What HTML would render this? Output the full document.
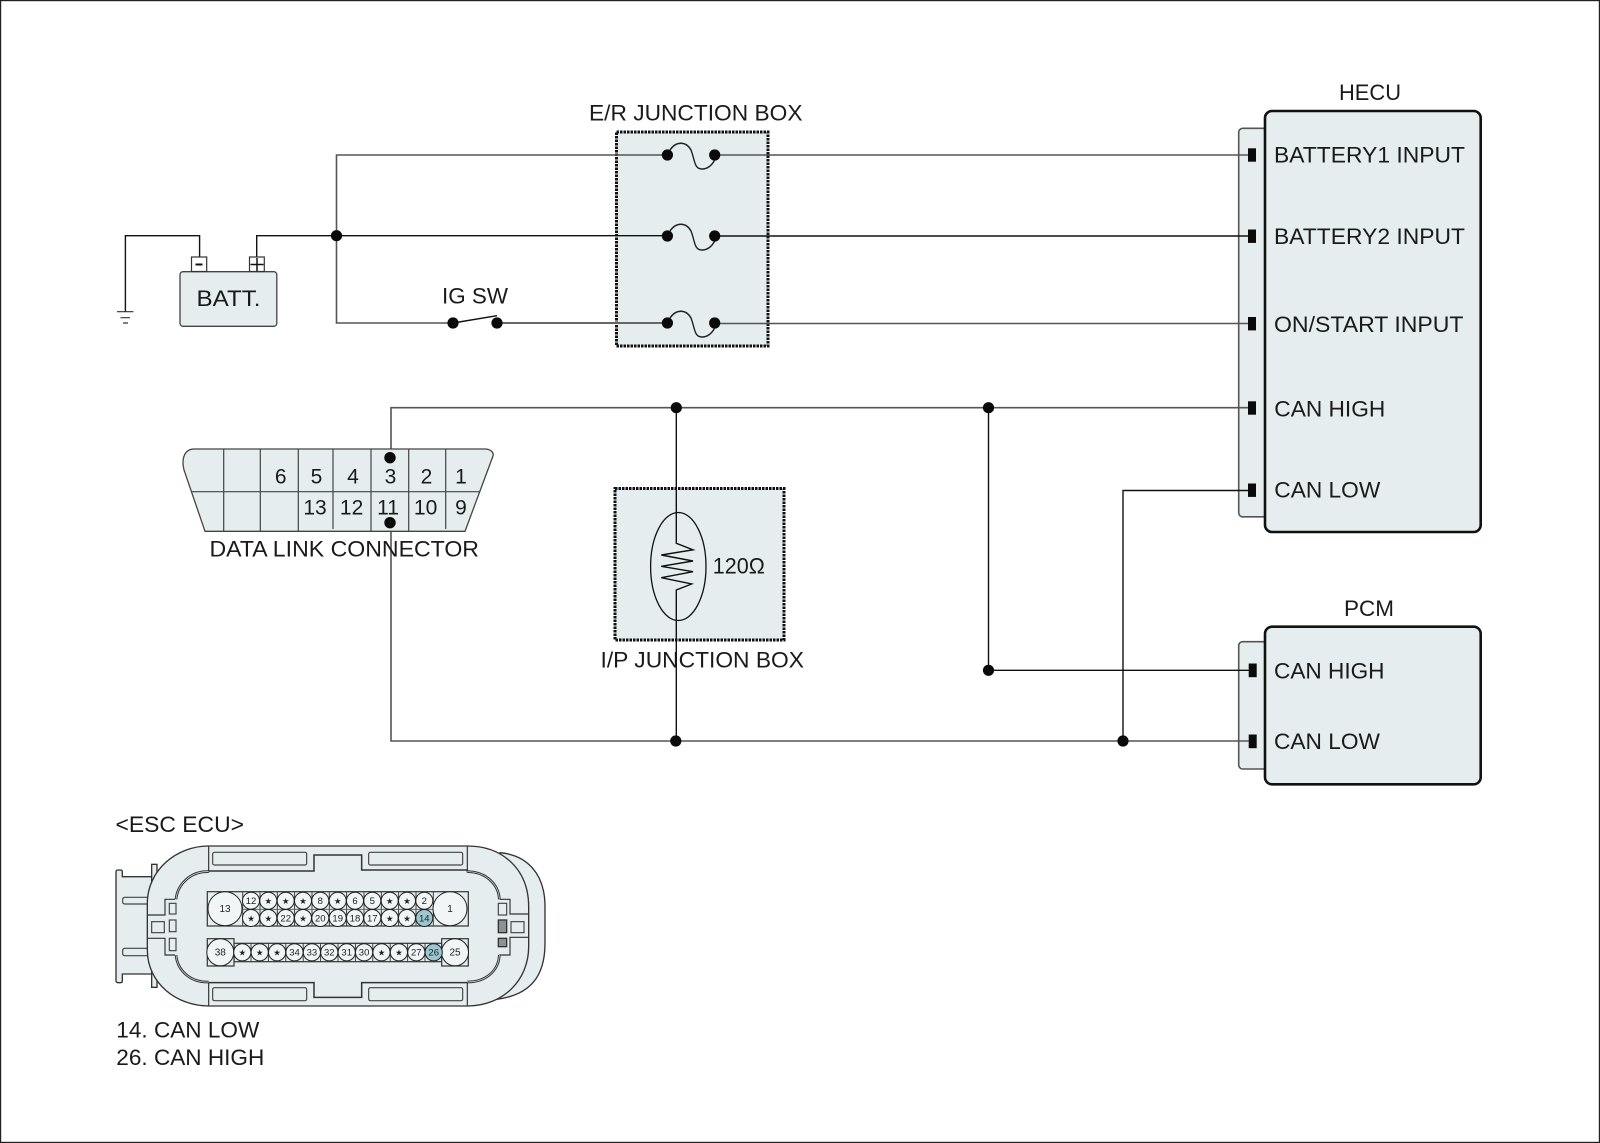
<!DOCTYPE html>
<html>
<head>
<meta charset="utf-8">
<style>
html,body{margin:0;padding:0;background:#fff}
svg{display:block}
text{font-family:"Liberation Sans",sans-serif;fill:#1a1a1a}
.t{font-size:22px}
.n{font-size:21px;text-anchor:middle}
.p{font-size:9.5px;text-anchor:middle;fill:#222}
.s{font-size:8.5px;text-anchor:middle;font-family:"DejaVu Sans",sans-serif;fill:#222}
.w{fill:none;stroke:#111;stroke-width:1.4}
.w2{fill:none;stroke:#555;stroke-width:1.6}
.b{fill:#e5edee;stroke:#111;stroke-width:2.6}
.d{fill:#e5edee;stroke:#111;stroke-width:3;stroke-dasharray:2.5 1}
.c{fill:#f1f5f5;stroke:#222;stroke-width:1}
.h{fill:#9cc6d0;stroke:#222;stroke-width:1}
.e{fill:#e5edee;stroke:#333;stroke-width:4}
.l{fill:#e5edee;stroke:#444;stroke-width:3.5}
.o{fill:none;stroke:#333;stroke-width:3.5}
</style>
</head>
<body>
<svg width="1600" height="1143" viewBox="0 0 1600 1143" xmlns="http://www.w3.org/2000/svg">
<rect x="0.5" y="0.5" width="1599" height="1142" fill="#fff" stroke="#222" stroke-width="1.4"/>

<!-- junction boxes -->
<rect class="d" x="616.5" y="132" width="151.5" height="214"/>
<rect class="d" x="615" y="488.5" width="169" height="151.5"/>

<!-- tabs + modules -->
<rect x="1238.7" y="128.3" width="40" height="388.5" rx="4" fill="#e5edee" stroke="#555" stroke-width="1.6"/>
<rect class="b" x="1265" y="111" width="215.7" height="421" rx="7"/>
<rect x="1238.7" y="641.7" width="40" height="127.3" rx="4" fill="#e5edee" stroke="#555" stroke-width="1.6"/>
<rect class="b" x="1265" y="626.7" width="215.7" height="157.6" rx="7"/>

<!-- wires -->
<path class="w2" d="M667 155H336.5V323H453"/>
<path class="w" d="M125.4 311.7V235.7H199.6V257M256.7 257V235.7H667"/>
<path class="w" d="M453 323L497 315.7"/>
<path d="M497 323H667" fill="none" stroke="#666" stroke-width="2"/>
<path class="w2" d="M714.7 155H1248"/>
<path class="w" d="M714.7 236H1248"/>
<path class="w2" d="M714.7 323.5H1248"/>
<path class="w2" d="M391 457V407.7H1248"/>
<path class="w" d="M676.3 407.7V543.3L693 549.8L661.3 555L693 561L661.3 566.3L693 571.7L661.3 577.7L691.7 584L676.3 590V741"/>
<path class="w" d="M988.5 407.7V670.3H1248.7"/>
<path class="w" d="M1248 490.5H1123V741"/>
<path class="w2" d="M391 522.7V741H1248.7"/>
<ellipse cx="678.3" cy="566.5" rx="27.7" ry="54" fill="none" stroke="#111" stroke-width="1.3"/>

<!-- ground -->
<path d="M117 311.7H133.5M120.5 317.7H130M123 323H128" stroke="#333" stroke-width="1.2" fill="none"/>

<!-- fuses -->
<g fill="none" stroke="#222" stroke-width="1.4">
<path d="M670 150C676 141 686 141 691 150C695 160 694 169 702 169C708 169 712 165 714.7 160"/>
<path d="M670 231C676 222 686 222 691 231C695 241 694 250 702 250C708 250 712 246 714.7 241"/>
<path d="M670 318C676 309 686 309 691 318C695 328 694 337 702 337C708 337 712 333 714.7 328"/>
</g>

<!-- nodes -->
<g fill="#0a0a0a">
<circle cx="336.5" cy="235.7" r="5.6"/>
<circle cx="667.4" cy="155" r="5.6"/><circle cx="714.7" cy="155" r="5.6"/>
<circle cx="667.4" cy="236" r="5.6"/><circle cx="714.7" cy="236" r="5.6"/>
<circle cx="667.4" cy="323" r="5.6"/><circle cx="714.7" cy="323" r="5.6"/>
<circle cx="453" cy="323" r="5.6"/><circle cx="497" cy="323" r="5.6"/>
<circle cx="676.3" cy="407.7" r="5.6"/><circle cx="988.5" cy="407.7" r="5.6"/>
<circle cx="988.5" cy="670.3" r="5.6"/>
<circle cx="675.8" cy="741" r="5.6"/><circle cx="1123" cy="741" r="5.6"/>
<rect x="1248" y="148.3" width="8" height="13.4"/>
<rect x="1248" y="229.5" width="8" height="13.4"/>
<rect x="1248" y="317" width="8" height="13.4"/>
<rect x="1248" y="401.3" width="8" height="13.4"/>
<rect x="1248" y="483.5" width="8" height="13.4"/>
<rect x="1248.7" y="663.5" width="8" height="13.7"/>
<rect x="1248.7" y="734.5" width="8" height="13.7"/>
</g>

<!-- battery -->
<rect x="180" y="271.7" width="96.8" height="54.6" rx="3" fill="#e5edee" stroke="#444" stroke-width="1.3"/>
<rect x="191.5" y="257" width="15.2" height="14.5" fill="#fff" stroke="#333" stroke-width="1.2"/>
<rect x="249.5" y="257" width="14.8" height="14.5" fill="#fff" stroke="#333" stroke-width="1.2"/>
<path d="M195.5 264.5H202.5" stroke="#111" stroke-width="2"/>
<path d="M250.5 264.5H263.5M257 258V271" stroke="#111" stroke-width="1.5"/>

<!-- DLC -->
<path d="M205 531.3L184 470C181 458 185 449 194 449H485C490 449 494 452 493 456L465 531.3Z" fill="#e5edee" stroke="#444" stroke-width="1.3"/>
<path d="M192 491.7H480M223.7 449V531M260.3 449V531M298.3 449V531M333 449V529M371 449V531M408.7 449V531M445.7 449V529" stroke="#444" stroke-width="1.2" fill="none"/>
<text class="n" x="280.7" y="483.3">6</text><text class="n" x="316.5" y="483.3">5</text><text class="n" x="353" y="483.3">4</text><text class="n" x="390.5" y="483.3">3</text><text class="n" x="426.5" y="483.3">2</text><text class="n" x="461" y="483.3">1</text>
<text class="n" x="315" y="514.7">13</text><text class="n" x="351.6" y="514.7">12</text><text class="n" x="388" y="514.7">11</text><text class="n" x="425.6" y="514.7">10</text><text class="n" x="461" y="514.7">9</text>
<circle cx="390" cy="457.7" r="5.7" fill="#0a0a0a"/><circle cx="390" cy="522.7" r="5.7" fill="#0a0a0a"/>

<!-- labels -->
<text class="t" x="589" y="120.5" textLength="213.5" lengthAdjust="spacingAndGlyphs">E/R JUNCTION BOX</text>
<text class="t" x="1339" y="100" textLength="62" lengthAdjust="spacingAndGlyphs">HECU</text>
<text class="t" x="1344" y="616" textLength="50" lengthAdjust="spacingAndGlyphs">PCM</text>
<text class="t" x="196.5" y="306" textLength="64" lengthAdjust="spacingAndGlyphs">BATT.</text>
<text class="t" x="442" y="303.5" textLength="66" lengthAdjust="spacingAndGlyphs">IG SW</text>
<text class="t" x="1274" y="162.7" textLength="191" lengthAdjust="spacingAndGlyphs">BATTERY1 INPUT</text>
<text class="t" x="1274" y="244" textLength="191" lengthAdjust="spacingAndGlyphs">BATTERY2 INPUT</text>
<text class="t" x="1274" y="332" textLength="189.5" lengthAdjust="spacingAndGlyphs">ON/START INPUT</text>
<text class="t" x="1274.3" y="416.4" textLength="111" lengthAdjust="spacingAndGlyphs">CAN HIGH</text>
<text class="t" x="1274.3" y="497.3" textLength="106" lengthAdjust="spacingAndGlyphs">CAN LOW</text>
<text class="t" x="1274" y="678.7" textLength="110.5" lengthAdjust="spacingAndGlyphs">CAN HIGH</text>
<text class="t" x="1274" y="749" textLength="106" lengthAdjust="spacingAndGlyphs">CAN LOW</text>
<text class="t" x="209.5" y="556.7" textLength="269.5" lengthAdjust="spacingAndGlyphs">DATA LINK CONNECTOR</text>
<text class="t" x="600.5" y="667.3" textLength="203.5" lengthAdjust="spacingAndGlyphs">I/P JUNCTION BOX</text>
<text class="t" x="712.8" y="573.3" textLength="52" lengthAdjust="spacingAndGlyphs">120Ω</text>
<text class="t" x="115.5" y="832" textLength="128.5" lengthAdjust="spacingAndGlyphs">&lt;ESC ECU&gt;</text>
<text class="t" x="116.3" y="1037.7" textLength="143" lengthAdjust="spacingAndGlyphs">14. CAN LOW</text>
<text class="t" x="116.3" y="1065" textLength="148" lengthAdjust="spacingAndGlyphs">26. CAN HIGH</text>

<!-- ECU outline (zoom coords) -->
<g transform="translate(90 810) scale(0.33333)">
<path class="e" d="M1230 128C1310 135 1365 190 1365 290V400C1365 500 1320 555 1220 568Z"/>
<path class="e" d="M200 200H97V185Q97 180 92 180H84Q78 180 78 186V512Q78 518 84 518H92Q97 518 97 513V492H200Z"/>
<rect class="e" x="185" y="163" width="16" height="60"/>
<rect class="e" x="185" y="472" width="16" height="60"/>
<path class="l" d="M172 262H105Q98 262 98 269V275Q98 282 105 282H172"/>
<path class="l" d="M172 415H105Q98 415 98 422V430Q98 437 105 437H172"/>
<path class="e" d="M356 108H1132C1240 108 1316 180 1316 290V410C1316 510 1240 588 1132 588H356C260 588 172 520 172 420V280C172 180 260 108 356 108Z"/>
<path d="M356 108V187M1132 108V187M356 516V588M1132 516V588" class="o"/>
<path d="M172 315H225V268H255M172 385H225V435H255M1228 268H1260V312H1316M1316 382H1260V435H1228" class="o"/>
<path d="M356 187V183H672V135H815V180H1132V187M356 516V518H672V562H815V518H1132V516" fill="none" stroke="#333" stroke-width="4.5"/>
<path d="M258 268C262 225 300 183 356 185M258 435C262 480 300 518 356 516M1132 185C1190 185 1226 225 1228 268M1228 435C1226 480 1190 516 1132 516" fill="none" stroke="#333" stroke-width="8"/>
<path d="M258 268C262 225 300 183 356 185M258 435C262 480 300 518 356 516M1132 185C1190 185 1226 225 1228 268M1228 435C1226 480 1190 516 1132 516" fill="none" stroke="#dfe7e8" stroke-width="2"/>
<rect class="l" x="368" y="127" width="282" height="38" rx="5"/>
<rect class="l" x="836" y="127" width="282" height="38" rx="5"/>
<rect class="l" x="368" y="533" width="282" height="39" rx="5"/>
<rect class="l" x="836" y="533" width="282" height="39" rx="5"/>
<rect class="l" x="185" y="335" width="38" height="33"/>
<rect class="l" x="1263" y="335" width="39" height="33"/>
<rect class="l" x="238" y="280" width="20" height="32"/>
<rect class="l" x="238" y="330" width="20" height="35"/>
<rect class="l" x="238" y="385" width="20" height="37"/>
<rect class="l" x="1225" y="280" width="25" height="35"/>
<rect x="1225" y="330" width="25" height="38" fill="#8a9295" stroke="#333" stroke-width="4"/>
<rect x="1225" y="385" width="25" height="25" fill="#8a9295" stroke="#333" stroke-width="4"/>
</g>

<!-- pin blocks -->
<rect x="207.3" y="891.7" width="261" height="34.3" fill="#e5edee" stroke="#333" stroke-width="1.2"/>
<path d="M242.7 892V926M260 892V926M277.3 892V926M294.6 892V926M312 892V926M329.3 892V926M346.6 892V926M364 892V926M381.3 892V926M398.6 892V926M416 892V926M433.3 892V926" stroke="#333" stroke-width="0.9"/>
<path d="M242 909.3H434" stroke="#555" stroke-width="0.8"/>
<rect x="234" y="943.3" width="207.7" height="18.4" fill="#e5edee" stroke="#333" stroke-width="1.2"/>
<rect x="207.3" y="938.7" width="26.7" height="27.3" fill="#e5edee" stroke="#333" stroke-width="1.2"/>
<rect x="441.7" y="938.7" width="26.6" height="27.3" fill="#e5edee" stroke="#333" stroke-width="1.2"/>
<path d="M251 943V962M268.4 943V962M285.8 943V962M303.2 943V962M320.6 943V962M338 943V962M355.4 943V962M372.8 943V962M390.2 943V962M407.6 943V962M425 943V962" stroke="#333" stroke-width="0.9"/>

<circle class="c" cx="225" cy="908.7" r="17"/><text class="p" x="225" y="912" style="font-size:10px">13</text>
<circle class="c" cx="450" cy="908.7" r="17"/><text class="p" x="450" y="912" style="font-size:10px">1</text>
<circle class="c" cx="220.3" cy="952.3" r="13.5"/><text class="p" x="220.3" y="955.5" style="font-size:10px">38</text>
<circle class="c" cx="455" cy="952.3" r="13.5"/><text class="p" x="455" y="955.5" style="font-size:10px">25</text>

<circle class="c" cx="251" cy="900.7" r="8.5"/><text class="p" x="251" y="904">12</text>
<circle class="c" cx="268.3" cy="900.7" r="8.5"/><text class="s" x="268.3" y="904">★</text>
<circle class="c" cx="285.7" cy="900.7" r="8.5"/><text class="s" x="285.7" y="904">★</text>
<circle class="c" cx="303" cy="900.7" r="8.5"/><text class="s" x="303" y="904">★</text>
<circle class="c" cx="320.3" cy="900.7" r="8.5"/><text class="p" x="320.3" y="904">8</text>
<circle class="c" cx="337.7" cy="900.7" r="8.5"/><text class="s" x="337.7" y="904">★</text>
<circle class="c" cx="355" cy="900.7" r="8.5"/><text class="p" x="355" y="904">6</text>
<circle class="c" cx="372.3" cy="900.7" r="8.5"/><text class="p" x="372.3" y="904">5</text>
<circle class="c" cx="389.7" cy="900.7" r="8.5"/><text class="s" x="389.7" y="904">★</text>
<circle class="c" cx="407" cy="900.7" r="8.5"/><text class="s" x="407" y="904">★</text>
<circle class="c" cx="424.3" cy="900.7" r="8.5"/><text class="p" x="424.3" y="904">2</text>

<circle class="c" cx="251" cy="918" r="8.5"/><text class="s" x="251" y="921.3">★</text>
<circle class="c" cx="268.3" cy="918" r="8.5"/><text class="s" x="268.3" y="921.3">★</text>
<circle class="c" cx="285.7" cy="918" r="8.5"/><text class="p" x="285.7" y="921.3">22</text>
<circle class="c" cx="303" cy="918" r="8.5"/><text class="s" x="303" y="921.3">★</text>
<circle class="c" cx="320.3" cy="918" r="8.5"/><text class="p" x="320.3" y="921.3">20</text>
<circle class="c" cx="337.7" cy="918" r="8.5"/><text class="p" x="337.7" y="921.3">19</text>
<circle class="c" cx="355" cy="918" r="8.5"/><text class="p" x="355" y="921.3">18</text>
<circle class="c" cx="372.3" cy="918" r="8.5"/><text class="p" x="372.3" y="921.3">17</text>
<circle class="c" cx="389.7" cy="918" r="8.5"/><text class="s" x="389.7" y="921.3">★</text>
<circle class="c" cx="407" cy="918" r="8.5"/><text class="s" x="407" y="921.3">★</text>
<circle class="h" cx="424.3" cy="918" r="8.5"/><text class="p" x="424.3" y="921.3">14</text>

<circle class="c" cx="242.3" cy="952.3" r="8.6"/><text class="s" x="242.3" y="955.6">★</text>
<circle class="c" cx="259.7" cy="952.3" r="8.6"/><text class="s" x="259.7" y="955.6">★</text>
<circle class="c" cx="277.1" cy="952.3" r="8.6"/><text class="s" x="277.1" y="955.6">★</text>
<circle class="c" cx="294.5" cy="952.3" r="8.6"/><text class="p" x="294.5" y="955.6">34</text>
<circle class="c" cx="311.9" cy="952.3" r="8.6"/><text class="p" x="311.9" y="955.6">33</text>
<circle class="c" cx="329.3" cy="952.3" r="8.6"/><text class="p" x="329.3" y="955.6">32</text>
<circle class="c" cx="346.7" cy="952.3" r="8.6"/><text class="p" x="346.7" y="955.6">31</text>
<circle class="c" cx="364.1" cy="952.3" r="8.6"/><text class="p" x="364.1" y="955.6">30</text>
<circle class="c" cx="381.5" cy="952.3" r="8.6"/><text class="s" x="381.5" y="955.6">★</text>
<circle class="c" cx="398.9" cy="952.3" r="8.6"/><text class="s" x="398.9" y="955.6">★</text>
<circle class="c" cx="416.3" cy="952.3" r="8.6"/><text class="p" x="416.3" y="955.6">27</text>
<circle class="h" cx="433.7" cy="952.3" r="8.6"/><text class="p" x="433.7" y="955.6">26</text>
</svg>
</body>
</html>
